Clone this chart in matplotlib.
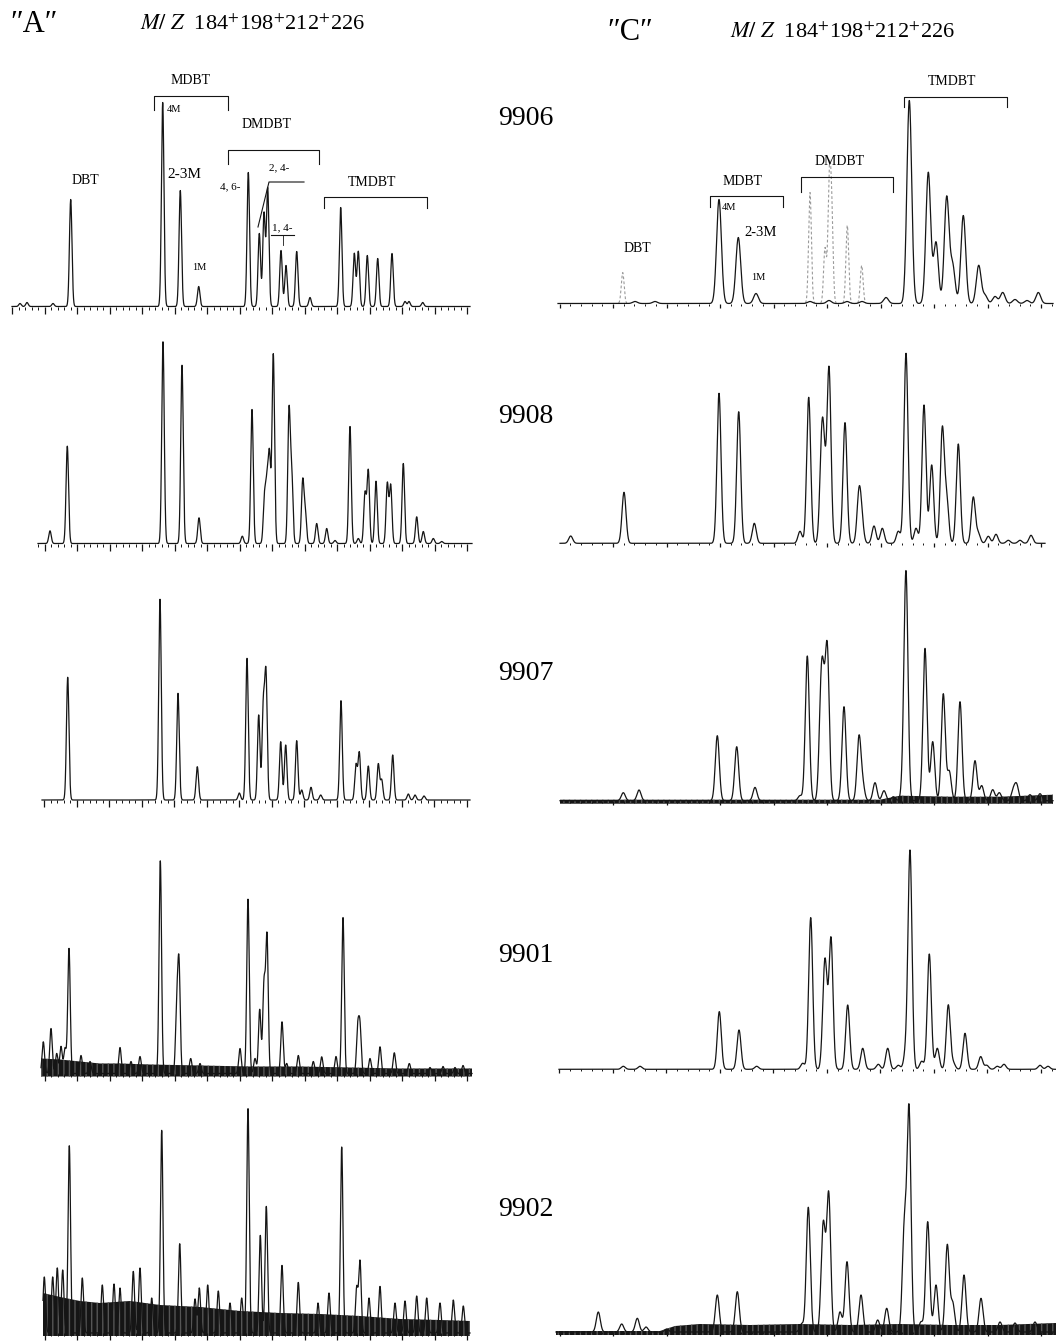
import numpy as np
import matplotlib
matplotlib.use('Agg')
import matplotlib.pyplot as plt
from matplotlib.ticker import MultipleLocator, NullFormatter

# ---------------- data (retention position in px, peak height in px) ----------------
samples = ['9906', '9908', '9907', '9901', '9902']
header_mz = r"$\mathit{M/\ Z}$  184$^{+}$198$^{+}$212$^{+}$226"

# column "A"
a9906_rt = [20, 27, 53, 70.7, 162.7, 180.3, 198.7, 248.3, 259.3, 264, 267.7, 281, 286, 296.7, 310,
            340.7, 354.3, 358.3, 367.3, 377.7, 392, 405, 409, 422.7]
a9906_ht = [3, 4, 3, 107, 204, 116, 20, 134, 73, 93, 118, 56, 41, 55, 9,
            99, 53, 55, 51, 48, 53, 5, 5, 4]

a9908_rt = [50, 67.3, 163, 182, 199, 242.3, 252, 264.5, 267, 269.5, 273.3, 289, 291.7, 302.7, 305.3,
            316.7, 326.7, 335, 350, 358.3, 365, 368.3, 376, 387.3, 390.7, 403.3, 416.7, 423.3,
            433.3, 441.7]
a9908_ht = [12.7, 97.3, 201.7, 178.3, 25.7, 7.3, 134, 45, 55, 85, 189, 130.7, 68, 61.7, 30,
            20, 15, 3, 117, 5, 50, 72.7, 62.3, 60, 58, 80, 26.7, 12,
            5, 2]

a9907_rt = [67.7, 160, 178, 197.3, 239.3, 247, 258.7, 263.3, 266, 280.7, 285.7, 296.7, 301.7, 311,
            320.7, 341, 356, 359.3, 368.3, 378.3, 381.7, 392.7, 408.3, 415, 424]
a9907_ht = [122.7, 200.7, 106.7, 33.3, 7, 141.7, 85, 91.7, 122.7, 58.3, 55, 59.3, 10, 12.7,
            5, 99.3, 35, 47.3, 34, 36, 20, 45, 6, 5, 4]

a9901_rt = [43.3, 51, 56.7, 61, 65, 69, 81, 90, 120, 131, 140, 160.3, 176.7, 179, 190.7, 200, 240,
            248, 255, 259.7, 264, 267, 282, 286.7, 298.3, 313.3, 321.7, 336, 343, 357.7, 360, 370,
            380, 394.3, 409.3, 430, 443, 455, 463]
a9901_ht = [31.7, 45, 20, 27, 25, 125, 18, 12, 26, 12, 17, 212.7, 60, 106, 15, 10, 25,
            174.3, 15, 64, 88.3, 136, 51.7, 10, 18, 12, 16.7, 17, 156, 43.3, 45, 15,
            26.7, 20.7, 10, 6, 7, 6, 8]
a9901_noise_x = [41, 60, 80, 100, 120, 150, 200, 250, 300, 350, 400, 440, 472]
a9901_noise_top = [15, 14, 12, 10, 10, 9, 8, 7, 7, 6, 5, 5, 5]

a9902_rt = [44.3, 52.7, 57.3, 62.7, 69.3, 82.3, 102.3, 114, 120, 133.3, 140, 151.7, 161.7, 179.7,
            195, 199.3, 207.7, 218.3, 230, 241.7, 248, 260.3, 266.3, 282, 298.3, 318, 329, 341.7,
            356.7, 360, 369, 380, 395, 405, 416.7, 426.7, 440, 453.3, 463.3]
a9902_ht = [56, 56, 65, 63, 187.3, 55, 48, 49, 45, 61.6, 65, 35, 202.7, 89.3,
            34, 45, 48, 42, 30, 35, 224.3, 97.6, 126.6, 67.6, 50.6, 30, 40, 186,
            45, 71.6, 35, 46.6, 30, 32, 37, 35, 30, 33, 27]
a9902_noise_x = [43, 60, 80, 100, 130, 160, 200, 240, 280, 320, 360, 400, 440, 470]
a9902_noise_top = [40, 36, 32, 30, 32, 28, 26, 22, 20, 19, 17, 14, 13, 12]

# column "C"
c9906_rt = [635, 655, 719, 738.3, 756, 810, 829, 847, 862, 886, 909.3, 928.3, 936, 946.7, 952.7,
            963.3, 978.7, 985, 995, 1002.7, 1015, 1027, 1038.3]
c9906_ht = [2, 2, 104, 66, 10, 2, 3, 2, 2, 6, 203, 131, 61, 106, 37,
            88, 38, 8, 7, 11, 4, 3, 11]
c9906_dbt_dmdbt_rt = [622.7, 810, 825, 829.3, 831.7, 847.3, 861.7]
c9906_dbt_dmdbt_ht = [31, 111, 55, 116, 87, 78, 38]

c9908_rt = [570.7, 624, 719, 738.7, 754.3, 800, 808.7, 821.7, 824, 829, 845, 859, 861.7, 874, 882.3,
            898.3, 906, 916, 924, 931.7, 942.3, 946.7, 958.3, 973.3, 978.3, 988.3, 996, 1008.3,
            1020, 1031]
c9908_ht = [7.3, 51, 150, 131.6, 20, 12, 146, 86.7, 60, 174.3, 120.7, 48.3, 20, 17.3, 15,
            12, 190, 15, 138.3, 78.3, 113.3, 43, 99.3, 46, 10, 7, 9, 3, 3, 8]

c9907_rt = [623.3, 639, 717.3, 736.7, 755, 800, 807.3, 821, 823.3, 827.3, 844, 859, 862.7, 875, 884,
            893.3, 903.3, 906, 925, 932.7, 943.3, 949.3, 960, 975, 981.7, 992.7, 999.3, 1013.3,
            1016.7, 1030, 1040]
c9907_ht = [8, 10.7, 65, 54, 13.3, 5, 144.7, 89, 75, 147.3, 94, 63, 15, 18, 10,
            4, 15, 224, 152.3, 59, 106.7, 29, 99, 40, 15, 11, 8, 10,
            15, 6, 7]
c9907_noise_x = [560, 880, 900, 950, 1000, 1053]
c9907_noise_top = [1, 1, 5, 4, 4, 6]

c9901_rt = [623.3, 640, 719.3, 739, 756.7, 802.7, 810.7, 824.3, 826, 831, 847.7, 862.7, 878.3, 887.7,
            898.3, 905.7, 910, 921.7, 929.3, 937.3, 948.3, 953.3, 965, 980.7, 986.7, 997.3, 1004,
            1040, 1048]
c9901_ht = [3, 3, 57.7, 39.3, 3, 6, 151.7, 70, 50, 130, 64.3, 21, 5, 21,
            4, 16, 217.7, 8, 115.3, 21, 64.3, 6, 36, 12.7, 4, 3, 5,
            4, 3]

c9902_rt = [598.3, 621.7, 637.3, 646, 666.7, 717.3, 737.3, 801.7, 808.3, 822.7, 824, 828.7, 840, 847,
            861, 877.7, 886.7, 904.3, 909, 921, 927.7, 936, 947.3, 952.7, 964, 981, 1000, 1015, 1035]
c9902_ht = [20, 8, 13.7, 5, 3, 37, 40.3, 8, 124.7, 63.7, 50, 137, 20, 70.3,
            37, 12, 23.7, 102, 221.3, 10, 110.3, 47, 87, 28.7, 57, 33.7, 10, 9, 10]
c9902_noise_x = [556, 660, 675, 700, 750, 800, 850, 900, 950, 1000, 1056]
c9902_noise_top = [1, 1, 6, 8, 7, 8, 7, 8, 7, 7, 9]

# ---------------- figure ----------------
W, H = 1056, 1344
plt.rcParams['font.family'] = ['Liberation Serif', 'DejaVu Serif']
plt.rcParams['mathtext.fontset'] = 'stix'
fig = plt.figure(figsize=(W / 100, H / 100), dpi=100)
fig.patch.set_facecolor('white')

INK = '#151515'


def make_axes(x0, x1, base, height, major, minor, offset, tick_len):
    ax = fig.add_axes([x0 / W, (H - base) / H, (x1 - x0) / W, height / H])
    ax.set_facecolor('none')
    ax.set_xlim(x0, x1)
    ax.set_ylim(0, height)
    for s in ax.spines.values():
        s.set_visible(False)
    ax.set_yticks([])
    ax.xaxis.set_major_locator(MultipleLocator(major, offset))
    ax.xaxis.set_minor_locator(MultipleLocator(minor, offset))
    ax.xaxis.set_major_formatter(NullFormatter())
    ax.tick_params(axis='x', which='major', direction='out', length=tick_len, width=0.9, color=INK)
    ax.tick_params(axis='x', which='minor', direction='out', length=tick_len * 0.5, width=0.7, color=INK)
    return ax


def trace(ax, rt, ht, sigma, mask_below=None, **kw):
    x0, x1 = ax.get_xlim()
    x = np.linspace(x0, x1, 6000)
    y = np.zeros_like(x)
    for p, h in zip(rt, ht):
        y += h * np.exp(-0.5 * ((x - p) / sigma) ** 2)
    if mask_below is not None:
        y = np.where(y < mask_below, np.nan, y)
    style = dict(color=INK, lw=0.9, clip_on=False)
    style.update(kw)
    ax.plot(x, y, **style)


def noise(ax, nx, ntop, bottom):
    x0, x1 = ax.get_xlim()
    x = np.linspace(x0, x1, 800)
    top = np.interp(x, nx, ntop)
    coll = ax.fill_between(x, bottom, top, facecolor=INK, edgecolor='#555555',
                           hatch='|||', lw=0)
    coll.set_clip_on(False)


def bracket(ax, xa, xb, ytop, yleg):
    ax.plot([xa, xa, xb, xb], [yleg, ytop, ytop, yleg], color=INK, lw=0.8, clip_on=False)


# panel geometry (left px, right px, baseline px, height px)
left_geom = [(12, 470, 306.5, 240), (38, 472, 543.5, 230), (42, 470, 800, 230),
             (41, 472, 1073.5, 230), (43, 470, 1333, 240)]
right_geom = [(558, 1053, 303.5, 240), (560, 1045, 543.3, 230), (560, 1053, 800.7, 230),
              (559, 1056, 1069.3, 230), (556, 1056, 1332, 240)]

a_rt = [a9906_rt, a9908_rt, a9907_rt, a9901_rt, a9902_rt]
a_ht = [a9906_ht, a9908_ht, a9907_ht, a9901_ht, a9902_ht]
c_rt = [c9906_rt, c9908_rt, c9907_rt, c9901_rt, c9902_rt]
c_ht = [c9906_ht, c9908_ht, c9907_ht, c9901_ht, c9902_ht]
a_noise = {3: (a9901_noise_x, a9901_noise_top), 4: (a9902_noise_x, a9902_noise_top)}
c_noise = {2: (c9907_noise_x, c9907_noise_top), 4: (c9902_noise_x, c9902_noise_top)}

axA, axC = [], []
for i in range(5):
    x0, x1, base, hgt = left_geom[i]
    ax = make_axes(x0, x1, base, hgt, 32.5, 6.5, 12, 5)
    if i in a_noise:
        noise(ax, a_noise[i][0], a_noise[i][1], -3)
    trace(ax, a_rt[i], a_ht[i], 1.25)
    axA.append(ax)

    x0, x1, base, hgt = right_geom[i]
    ax = make_axes(x0, x1, base, hgt, 53.5, 10.7, 24.5, 3)
    if i in c_noise:
        noise(ax, c_noise[i][0], c_noise[i][1], -3)
    if i == 0:
        trace(ax, c9906_dbt_dmdbt_rt, c9906_dbt_dmdbt_ht, 1.4, mask_below=0.4,
              color='#9a9a9a', lw=0.8, ls=(0, (2.5, 2)))
    trace(ax, c_rt[i], c_ht[i], 2.4 if i == 0 else 2.0)
    axC.append(ax)

# ---------------- annotations: column A, top panel ----------------
ax = axA[0]
fs_big, fs_small = 10, 7.5
ax.text(85, 126.5, 'DBT', ha='center', va='center', fontsize=fs_big)
ax.text(191, 225.5, 'MDBT', ha='center', va='center', fontsize=fs_big)
bracket(ax, 154, 228, 210.5, 196.5)
ax.text(167, 196.5, '4M', ha='left', va='center', fontsize=fs_small)
ax.text(167, 132.5, '2-3M', ha='left', va='center', fontsize=11)
ax.text(199, 39.5, '1M', ha='center', va='center', fontsize=fs_small)
ax.text(267, 181.5, 'DMDBT', ha='center', va='center', fontsize=fs_big)
bracket(ax, 228, 319, 156.5, 142.5)
ax.text(241, 119.5, '4, 6-', ha='right', va='center', fontsize=8)
ax.text(269, 138.5, '2, 4-', ha='left', va='center', fontsize=8)
ax.plot([258, 269, 304], [79.5, 124.5, 124.5], color=INK, lw=0.8, clip_on=False)
ax.text(272, 78.5, '1, 4-', ha='left', va='center', fontsize=8)
ax.plot([271, 294], [71.5, 71.5], color=INK, lw=0.8, clip_on=False)
ax.plot([283, 283], [71.5, 62], color=INK, lw=0.6, clip_on=False)
ax.text(372, 124.5, 'TMDBT', ha='center', va='center', fontsize=fs_big)
bracket(ax, 324, 427, 109.5, 98.5)

# ---------------- annotations: column C, top panel ----------------
ax = axC[0]
ax.text(951.7, 221.8, 'TMDBT', ha='center', va='center', fontsize=fs_big)
bracket(ax, 904, 1006.7, 206.8, 196.8)
ax.text(840, 141.8, 'DMDBT', ha='center', va='center', fontsize=fs_big)
bracket(ax, 800.7, 892.7, 126.8, 111.8)
ax.text(743, 121.8, 'MDBT', ha='center', va='center', fontsize=fs_big)
bracket(ax, 710, 783.3, 107.5, 96.8)
ax.text(722, 95.5, '4M', ha='left', va='center', fontsize=fs_small)
ax.text(744, 70.8, '2-3M', ha='left', va='center', fontsize=10.5)
ax.text(758, 26.5, '1M', ha='center', va='center', fontsize=fs_small)
ax.text(637, 55.2, 'DBT', ha='center', va='center', fontsize=fs_big)

# ---------------- headers and sample labels ----------------
fig.text(10 / W, 1 - 24 / H, '″A″', ha='left', va='center', fontsize=22)
fig.text(140 / W, 1 - 25 / H, header_mz, ha='left', va='center', fontsize=16)
fig.text(607 / W, 1 - 33 / H, '″C″', ha='left', va='center', fontsize=22)
fig.text(730 / W, 1 - 33 / H, header_mz, ha='left', va='center', fontsize=16)

label_y = [118.5, 416.5, 674, 956, 1209]
for s, yy in zip(samples, label_y):
    fig.text(526 / W, 1 - yy / H, s, ha='center', va='center', fontsize=20)

fig.savefig('out.png', dpi=100, facecolor='white')
